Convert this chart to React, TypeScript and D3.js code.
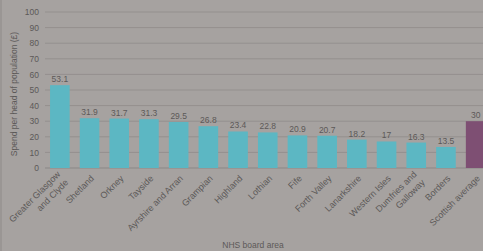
import { useEffect, useRef } from "react";
import * as d3 from "d3";

const boards = [
  "Greater Glasgow\nand Clyde",
  "Shetland",
  "Orkney",
  "Tayside",
  "Ayrshire and Arran",
  "Grampian",
  "Highland",
  "Lothian",
  "Fife",
  "Forth Valley",
  "Lanarkshire",
  "Western Isles",
  "Dumfries and\nGalloway",
  "Borders",
  "Scottish average",
];
const spend = [53.1, 31.9, 31.7, 31.3, 29.5, 26.8, 23.4, 22.8, 20.9, 20.7, 18.2, 17, 16.3, 13.5, 30];
const yTicks = [0, 10, 20, 30, 40, 50, 60, 70, 80, 90, 100];

const W = 483;
const H = 251;
const BG = "#a6a2a0";
const TEAL = "#5cb7c3";
const PURPLE = "#7e4f73";
const TXT = "#5c5958";

export default function App() {
  const ref = useRef<SVGSVGElement | null>(null);

  useEffect(() => {
    document.body.style.margin = "0";
    if (!ref.current) return;
    const svg = d3.select(ref.current);
    svg.selectAll("*").remove();

    const x = d3.scaleBand<string>().domain(boards).range([45, 45 + 15 * 29.7]).paddingInner(0.34).paddingOuter(0.17);
    const y = d3.scaleLinear().domain([0, 100]).range([168, 12]);
    const font = "'Liberation Sans', Arial, sans-serif";

    svg.append("rect").attr("width", W).attr("height", H).attr("fill", BG);
    svg.append("rect").attr("width", 2).attr("height", H).attr("fill", "#9a9694");

    // grid
    svg.append("g")
      .selectAll("line")
      .data(yTicks)
      .join("line")
      .attr("x1", 45).attr("x2", W)
      .attr("y1", (d) => y(d)).attr("y2", (d) => y(d))
      .attr("stroke", (d) => (d === 0 ? "#8a8786" : "#94908e"))
      .attr("stroke-width", 1);

    const ya = svg.append("g")
      .attr("transform", "translate(45,0)")
      .call(d3.axisLeft(y).tickValues(yTicks).tickSize(0).tickPadding(6));
    ya.select(".domain").remove();
    ya.selectAll("text").attr("fill", TXT).attr("font-size", 8.5).attr("font-family", font);

    // bars
    svg.append("g")
      .selectAll("rect")
      .data(spend)
      .join("rect")
      .attr("x", (_, i) => x(boards[i])!)
      .attr("width", x.bandwidth())
      .attr("y", (d) => y(d))
      .attr("height", (d) => y(0) - y(d))
      .attr("fill", (_, i) => (i === boards.length - 1 ? PURPLE : TEAL));

    // value labels
    svg.append("g")
      .selectAll("text")
      .data(spend)
      .join("text")
      .attr("x", (_, i) => x(boards[i])! + x.bandwidth() / 2)
      .attr("y", (d) => y(d) - 3)
      .attr("text-anchor", "middle")
      .attr("fill", TXT)
      .attr("font-size", 8.5)
      .attr("font-family", font)
      .text((d) => String(d));

    // category labels
    const cat = svg.append("g")
      .selectAll("text")
      .data(boards)
      .join("text")
      .attr("transform", (d) => `translate(${x(d)! + x.bandwidth() / 2 + 5},179) rotate(-45)`)
      .attr("text-anchor", "end")
      .attr("fill", TXT)
      .attr("font-size", 9)
      .attr("font-family", font);
    cat.each(function (d) {
      const lines = d.split("\n");
      const t = d3.select(this);
      lines.forEach((ln, i) => {
        t.append("tspan")
          .attr("x", 0)
          .attr("y", (i - (lines.length - 1) / 2) * 11.5)
          .text(ln);
      });
    });

    svg.append("text")
      .attr("x", 253).attr("y", 248)
      .attr("text-anchor", "middle")
      .attr("fill", TXT)
      .attr("font-size", 8.5)
      .attr("font-family", font)
      .text("NHS board area");

    svg.append("text")
      .attr("transform", "translate(17,94) rotate(-90)")
      .attr("text-anchor", "middle")
      .attr("fill", TXT)
      .attr("font-size", 8.5)
      .attr("font-family", font)
      .text("Spend per head of population (£)");
  }, []);

  return <svg ref={ref} width={W} height={H} style={{ display: "block" }} />;
}
